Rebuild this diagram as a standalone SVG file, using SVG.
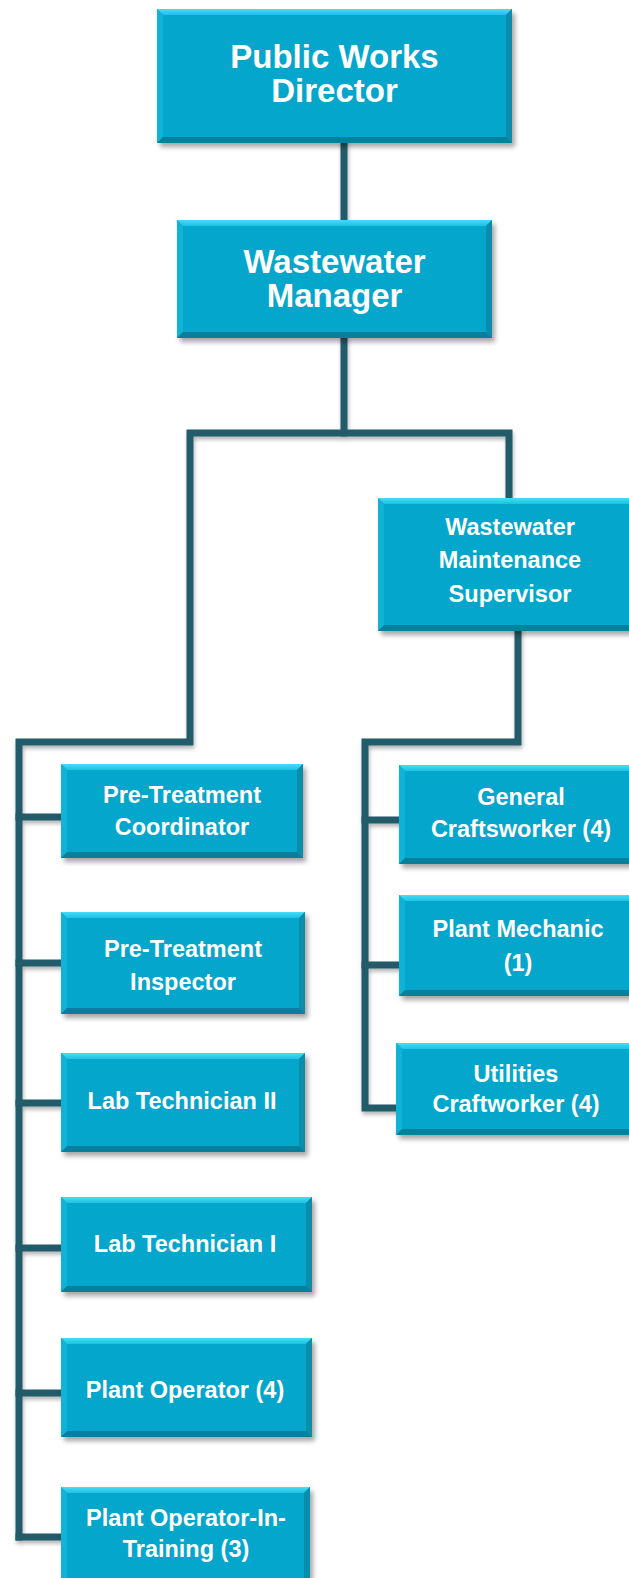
<svg xmlns="http://www.w3.org/2000/svg" width="629" height="1578" viewBox="0 0 629 1578">
<style>
.bg{fill:#ffffff}
.conn{fill:none;stroke:#235B6B;stroke-width:7;stroke-linejoin:miter;stroke-linecap:square}
.main{fill:#05A6CB}
.top{fill:url(#topg)}
.lft{fill:#10B3D6}
.rgt{fill:#0A8CAB}
.bot{fill:#0A7F9B}
.shadow{fill:#000;opacity:0.35;filter:url(#blur)}
.t1{font-family:"Liberation Sans",Arial,sans-serif;font-weight:bold;font-size:33px;fill:#ffffff;text-anchor:middle}
.t2{font-family:"Liberation Sans",Arial,sans-serif;font-weight:bold;font-size:23.5px;fill:#ffffff;text-anchor:middle}
</style>
<defs>
<linearGradient id="topg" x1="0" y1="0" x2="0" y2="1">
<stop offset="0" stop-color="#45DCF8"/>
<stop offset="1" stop-color="#1EC1E4"/>
</linearGradient>
<filter id="blur" x="-10%" y="-10%" width="120%" height="130%">
<feGaussianBlur stdDeviation="2.5"/>
</filter>
<filter id="lshadow" x="-5%" y="-5%" width="110%" height="110%">
<feGaussianBlur in="SourceAlpha" stdDeviation="2"/>
<feOffset dx="1" dy="3" result="o"/>
<feComponentTransfer><feFuncA type="linear" slope="0.3"/></feComponentTransfer>
<feMerge><feMergeNode/><feMergeNode in="SourceGraphic"/></feMerge>
</filter>
</defs>
<rect class="bg" x="0" y="0" width="629" height="1578"/>

<g id="connectors" filter="url(#lshadow)">
<path class="conn" d="M344,143 V220"/>
<path class="conn" d="M344,338 V433"/>
<path class="conn" d="M509,498 V433 H190 V742 H19 V1537"/>
<path class="conn" d="M19,817 H61 M19,963 H61 M19,1103 H61 M19,1248 H61 M19,1393 H61 M19,1537 H61"/>
<path class="conn" d="M518,631 V742 H365 V1108 H396"/>
<path class="conn" d="M365,820 H399 M365,965 H399"/>
</g>

<g id="public-works-director">
<rect class="shadow" x="160" y="13" width="355" height="134"/>
<rect class="main" x="157" y="9" width="355" height="134"/>
<polygon class="top" points="157,9 512,9 506,15 163,15"/>
<polygon class="lft" points="157,9 163,15 163,137 157,143"/>
<polygon class="rgt" points="512,9 512,143 506,137 506,15"/>
<polygon class="bot" points="157,143 512,143 506,137 163,137"/>
<text class="t1" x="334.5" y="68">Public Works</text>
<text class="t1" x="334.5" y="102">Director</text>
</g>

<g id="wastewater-manager">
<rect class="shadow" x="180" y="224" width="315" height="118"/>
<rect class="main" x="177" y="220" width="315" height="118"/>
<polygon class="top" points="177,220 492,220 486,226 183,226"/>
<polygon class="lft" points="177,220 183,226 183,332 177,338"/>
<polygon class="rgt" points="492,220 492,338 486,332 486,226"/>
<polygon class="bot" points="177,338 492,338 486,332 183,332"/>
<text class="t1" x="334.5" y="273">Wastewater</text>
<text class="t1" x="334.5" y="307">Manager</text>
</g>

<g id="wastewater-maintenance-supervisor">
<rect class="shadow" x="381" y="502" width="264" height="133"/>
<rect class="main" x="378" y="498" width="264" height="133"/>
<polygon class="top" points="378,498 642,498 636,504 384,504"/>
<polygon class="lft" points="378,498 384,504 384,625 378,631"/>
<polygon class="bot" points="378,631 642,631 636,625 384,625"/>
<text class="t2" x="510" y="535">Wastewater</text>
<text class="t2" x="510" y="568">Maintenance</text>
<text class="t2" x="510" y="602">Supervisor</text>
</g>

<g id="pre-treatment-coordinator">
<rect class="shadow" x="64" y="768" width="242" height="94"/>
<rect class="main" x="61" y="764" width="242" height="94"/>
<polygon class="top" points="61,764 303,764 297,770 67,770"/>
<polygon class="lft" points="61,764 67,770 67,852 61,858"/>
<polygon class="rgt" points="303,764 303,858 297,852 297,770"/>
<polygon class="bot" points="61,858 303,858 297,852 67,852"/>
<text class="t2" x="182" y="803">Pre-Treatment</text>
<text class="t2" x="182" y="835">Coordinator</text>
</g>

<g id="pre-treatment-inspector">
<rect class="shadow" x="64" y="916" width="244" height="102"/>
<rect class="main" x="61" y="912" width="244" height="102"/>
<polygon class="top" points="61,912 305,912 299,918 67,918"/>
<polygon class="lft" points="61,912 67,918 67,1008 61,1014"/>
<polygon class="rgt" points="305,912 305,1014 299,1008 299,918"/>
<polygon class="bot" points="61,1014 305,1014 299,1008 67,1008"/>
<text class="t2" x="183" y="957">Pre-Treatment</text>
<text class="t2" x="183" y="990">Inspector</text>
</g>

<g id="lab-technician-ii">
<rect class="shadow" x="64" y="1057" width="244" height="99"/>
<rect class="main" x="61" y="1053" width="244" height="99"/>
<polygon class="top" points="61,1053 305,1053 299,1059 67,1059"/>
<polygon class="lft" points="61,1053 67,1059 67,1146 61,1152"/>
<polygon class="rgt" points="305,1053 305,1152 299,1146 299,1059"/>
<polygon class="bot" points="61,1152 305,1152 299,1146 67,1146"/>
<text class="t2" x="182" y="1109">Lab Technician II</text>
</g>

<g id="lab-technician-i">
<rect class="shadow" x="64" y="1201" width="251" height="95"/>
<rect class="main" x="61" y="1197" width="251" height="95"/>
<polygon class="top" points="61,1197 312,1197 306,1203 67,1203"/>
<polygon class="lft" points="61,1197 67,1203 67,1286 61,1292"/>
<polygon class="rgt" points="312,1197 312,1292 306,1286 306,1203"/>
<polygon class="bot" points="61,1292 312,1292 306,1286 67,1286"/>
<text class="t2" x="185" y="1252">Lab Technician I</text>
</g>

<g id="plant-operator">
<rect class="shadow" x="64" y="1342" width="251" height="99"/>
<rect class="main" x="61" y="1338" width="251" height="99"/>
<polygon class="top" points="61,1338 312,1338 306,1344 67,1344"/>
<polygon class="lft" points="61,1338 67,1344 67,1431 61,1437"/>
<polygon class="rgt" points="312,1338 312,1437 306,1431 306,1344"/>
<polygon class="bot" points="61,1437 312,1437 306,1431 67,1431"/>
<text class="t2" x="185" y="1398">Plant Operator (4)</text>
</g>

<g id="plant-operator-in-training">
<rect class="shadow" x="64" y="1491" width="249" height="120"/>
<rect class="main" x="61" y="1487" width="249" height="120"/>
<polygon class="top" points="61,1487 310,1487 304,1493 67,1493"/>
<polygon class="lft" points="61,1487 67,1493 67,1601 61,1607"/>
<polygon class="rgt" points="310,1487 310,1607 304,1601 304,1493"/>
<text class="t2" x="186" y="1526">Plant Operator-In-</text>
<text class="t2" x="186" y="1557">Training (3)</text>
</g>

<g id="general-craftsworker">
<rect class="shadow" x="402" y="769" width="244" height="99"/>
<rect class="main" x="399" y="765" width="244" height="99"/>
<polygon class="top" points="399,765 643,765 637,771 405,771"/>
<polygon class="lft" points="399,765 405,771 405,858 399,864"/>
<polygon class="bot" points="399,864 643,864 637,858 405,858"/>
<text class="t2" x="521" y="805">General</text>
<text class="t2" x="521" y="837">Craftsworker (4)</text>
</g>

<g id="plant-mechanic">
<rect class="shadow" x="402" y="899" width="244" height="101"/>
<rect class="main" x="399" y="895" width="244" height="101"/>
<polygon class="top" points="399,895 643,895 637,901 405,901"/>
<polygon class="lft" points="399,895 405,901 405,990 399,996"/>
<polygon class="bot" points="399,996 643,996 637,990 405,990"/>
<text class="t2" x="518" y="937">Plant Mechanic</text>
<text class="t2" x="518" y="971">(1)</text>
</g>

<g id="utilities-craftworker">
<rect class="shadow" x="399" y="1047" width="250" height="92"/>
<rect class="main" x="396" y="1043" width="250" height="92"/>
<polygon class="top" points="396,1043 646,1043 640,1049 402,1049"/>
<polygon class="lft" points="396,1043 402,1049 402,1129 396,1135"/>
<polygon class="bot" points="396,1135 646,1135 640,1129 402,1129"/>
<text class="t2" x="516" y="1082">Utilities</text>
<text class="t2" x="516" y="1112">Craftworker (4)</text>
</g>
</svg>
